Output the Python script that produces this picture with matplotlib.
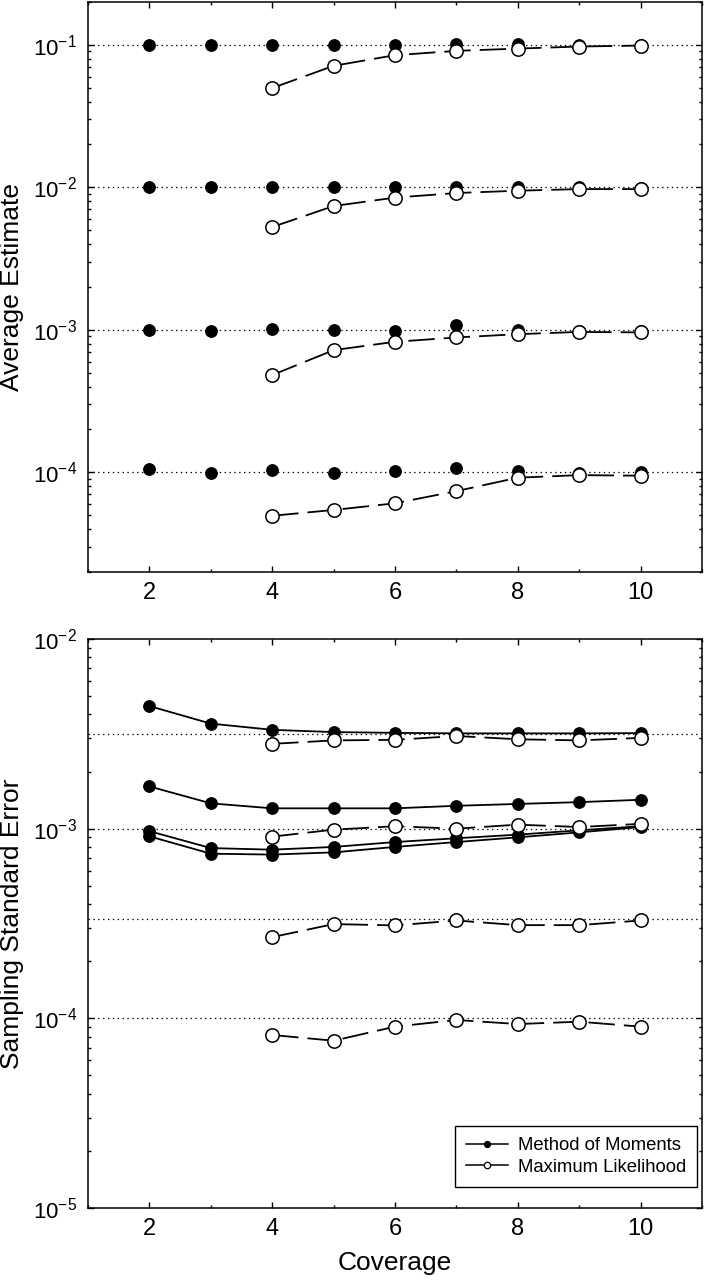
import matplotlib
matplotlib.use("Agg")
import matplotlib.pyplot as plt
from matplotlib.lines import Line2D
from matplotlib.ticker import LogLocator, LogFormatterSciNotation, MultipleLocator, NullFormatter

# ---------------- data ----------------
coverage_mom = [2, 3, 4, 5, 6, 7, 8, 9, 10]
coverage_ml = [4, 5, 6, 7, 8, 9, 10]

# Average estimates (top panel)
true_values = [1e-1, 1e-2, 1e-3, 1e-4]
mom_avg_1 = [0.100, 0.100, 0.100, 0.100, 0.100, 0.101, 0.101, 0.100, 0.100]
mom_avg_2 = [0.0100, 0.0100, 0.0101, 0.0100, 0.0100, 0.0101, 0.0100, 0.0100, 0.0099]
mom_avg_3 = [0.00100, 0.00098, 0.00101, 0.00100, 0.00099, 0.00108, 0.00100, 0.00099, 0.00099]
mom_avg_4 = [1.05e-4, 0.99e-4, 1.04e-4, 0.99e-4, 1.02e-4, 1.065e-4, 1.02e-4, 0.99e-4, 1.00e-4]
ml_avg_1 = [0.0498, 0.0713, 0.0847, 0.0908, 0.0942, 0.0974, 0.0989]
ml_avg_2 = [0.00527, 0.0074, 0.00848, 0.00913, 0.00948, 0.00973, 0.00973]
ml_avg_3 = [0.000482, 0.000721, 0.000825, 0.000885, 0.000933, 0.000968, 0.00096]
ml_avg_4 = [4.96e-5, 5.45e-5, 6.07e-5, 7.39e-5, 9.18e-5, 9.57e-5, 9.48e-5]

# Sampling standard errors (bottom panel)
expected_se = [3.17e-3, 1e-3, 3.33e-4, 1e-4]
mom_se_1 = [0.00443, 0.00358, 0.00332, 0.00323, 0.00320, 0.00318, 0.00318, 0.00318, 0.00319]
mom_se_2 = [0.00167, 0.00136, 0.00128, 0.00128, 0.00128, 0.00132, 0.00135, 0.00138, 0.00142]
mom_se_3 = [0.00097, 0.00079, 0.000775, 0.000801, 0.00085, 0.00089, 0.00093, 0.00098, 0.00103]
mom_se_4 = [0.000911, 0.000738, 0.00073, 0.00075, 0.000801, 0.00085, 0.0009, 0.000956, 0.00102]
ml_se_1 = [0.0028, 0.00292, 0.00294, 0.00308, 0.00296, 0.00292, 0.00301]
ml_se_2 = [0.000908, 0.000988, 0.00103, 0.00100, 0.00105, 0.00102, 0.00106]
ml_se_3 = [0.000268, 0.000314, 0.000309, 0.000328, 0.00031, 0.00031, 0.000328]
ml_se_4 = [8.17e-5, 7.62e-5, 9.04e-5, 9.8e-5, 9.33e-5, 9.6e-5, 9.04e-5]

legend_labels = ["Method of Moments", "Maximum Likelihood"]
x_label = "Coverage"
y_label_top = "Average Estimate"
y_label_bottom = "Sampling Standard Error"

# ---------------- style ----------------
plt.rcParams["font.family"] = ["Liberation Sans", "DejaVu Sans"]
plt.rcParams["mathtext.fontset"] = "custom"
plt.rcParams["mathtext.rm"] = "Liberation Sans"
plt.rcParams["mathtext.it"] = "Liberation Sans:italic"
plt.rcParams["mathtext.bf"] = "Liberation Sans:bold"
plt.rcParams["lines.scale_dashes"] = False

YTICK_FS = 16
XTICK_FS = 17
LABEL_FS = 19
LEG_FS = 13.3
DASH = (0, (19, 6.5))
DOT = (0, (1, 2.5))

fig = plt.figure(figsize=(7.06, 12.8), dpi=100)
ax1 = fig.add_axes([88 / 706, 1 - 572 / 1280, 614 / 706, 570 / 1280])
ax2 = fig.add_axes([88 / 706, 1 - 1208 / 1280, 614 / 706, 569 / 1280])


def style_axes(ax, ylim):
    ax.set_yscale("log")
    ax.set_xlim(1, 11)
    ax.set_ylim(*ylim)
    ax.xaxis.set_major_locator(MultipleLocator(2))
    ax.xaxis.set_minor_locator(MultipleLocator(1))
    ax.yaxis.set_major_locator(LogLocator(base=10, numticks=20))
    ax.yaxis.set_minor_locator(LogLocator(base=10, subs=range(2, 10), numticks=20))
    ax.yaxis.set_major_formatter(LogFormatterSciNotation())
    ax.yaxis.set_minor_formatter(NullFormatter())
    ax.tick_params(which="both", direction="in", top=True, right=True, width=1.0)
    ax.tick_params(which="major", length=4.5, pad=8)
    ax.tick_params(axis="y", which="major", labelsize=YTICK_FS)
    ax.tick_params(axis="x", which="major", labelsize=XTICK_FS, pad=7)
    ax.tick_params(which="minor", length=2.5)
    for s in ax.spines.values():
        s.set_linewidth(1.1)


MOM_KW = dict(color="black", marker="o", markersize=8.2, markerfacecolor="black",
              markeredgecolor="black", zorder=3)
ML_KW = dict(color="black", marker="o", markersize=9.6, markerfacecolor="white",
             markeredgecolor="black", markeredgewidth=1.1, linestyle=DASH, linewidth=1.3, zorder=4)

# ---- top panel ----
style_axes(ax1, (2e-5, 0.2))
for tv in true_values:
    ax1.axhline(tv, color="black", linestyle=DOT, linewidth=0.9, zorder=1)
for series in [mom_avg_1, mom_avg_2, mom_avg_3, mom_avg_4]:
    ax1.plot(coverage_mom, series, linestyle="none", **MOM_KW)
for series in [ml_avg_1, ml_avg_2, ml_avg_3, ml_avg_4]:
    ax1.plot(coverage_ml, series, **ML_KW)
ax1.set_ylabel(y_label_top, fontsize=LABEL_FS)
ax1.yaxis.set_label_coords(-0.104, 0.5)

# ---- bottom panel ----
style_axes(ax2, (1e-5, 1e-2))
for ev in expected_se:
    ax2.axhline(ev, color="black", linestyle=DOT, linewidth=0.9, zorder=1)
for series in [mom_se_1, mom_se_2, mom_se_3, mom_se_4]:
    ax2.plot(coverage_mom, series, linestyle="-", linewidth=1.3, **MOM_KW)
for series in [ml_se_1, ml_se_2, ml_se_3, ml_se_4]:
    ax2.plot(coverage_ml, series, **ML_KW)
ax2.set_ylabel(y_label_bottom, fontsize=LABEL_FS)
ax2.yaxis.set_label_coords(-0.104, 0.5)
ax2.set_xlabel(x_label, fontsize=LABEL_FS, labelpad=8)

handles = [
    Line2D([], [], color="black", linewidth=1.1, marker="o", markersize=4.2,
           markerfacecolor="black", markeredgecolor="black"),
    Line2D([], [], color="black", linewidth=1.1, marker="o", markersize=4.6,
           markerfacecolor="white", markeredgecolor="black", markeredgewidth=0.9),
]
leg = ax2.legend(handles, legend_labels, loc="lower right",
                 bbox_to_anchor=(0.9919, 0.0369), borderaxespad=0,
                 fontsize=LEG_FS, frameon=True, fancybox=False, framealpha=1,
                 edgecolor="black", handlelength=2.3, handletextpad=0.5,
                 labelspacing=0.25, borderpad=0.6)
leg.get_frame().set_linewidth(1.0)

fig.savefig("out.png", dpi=100)
